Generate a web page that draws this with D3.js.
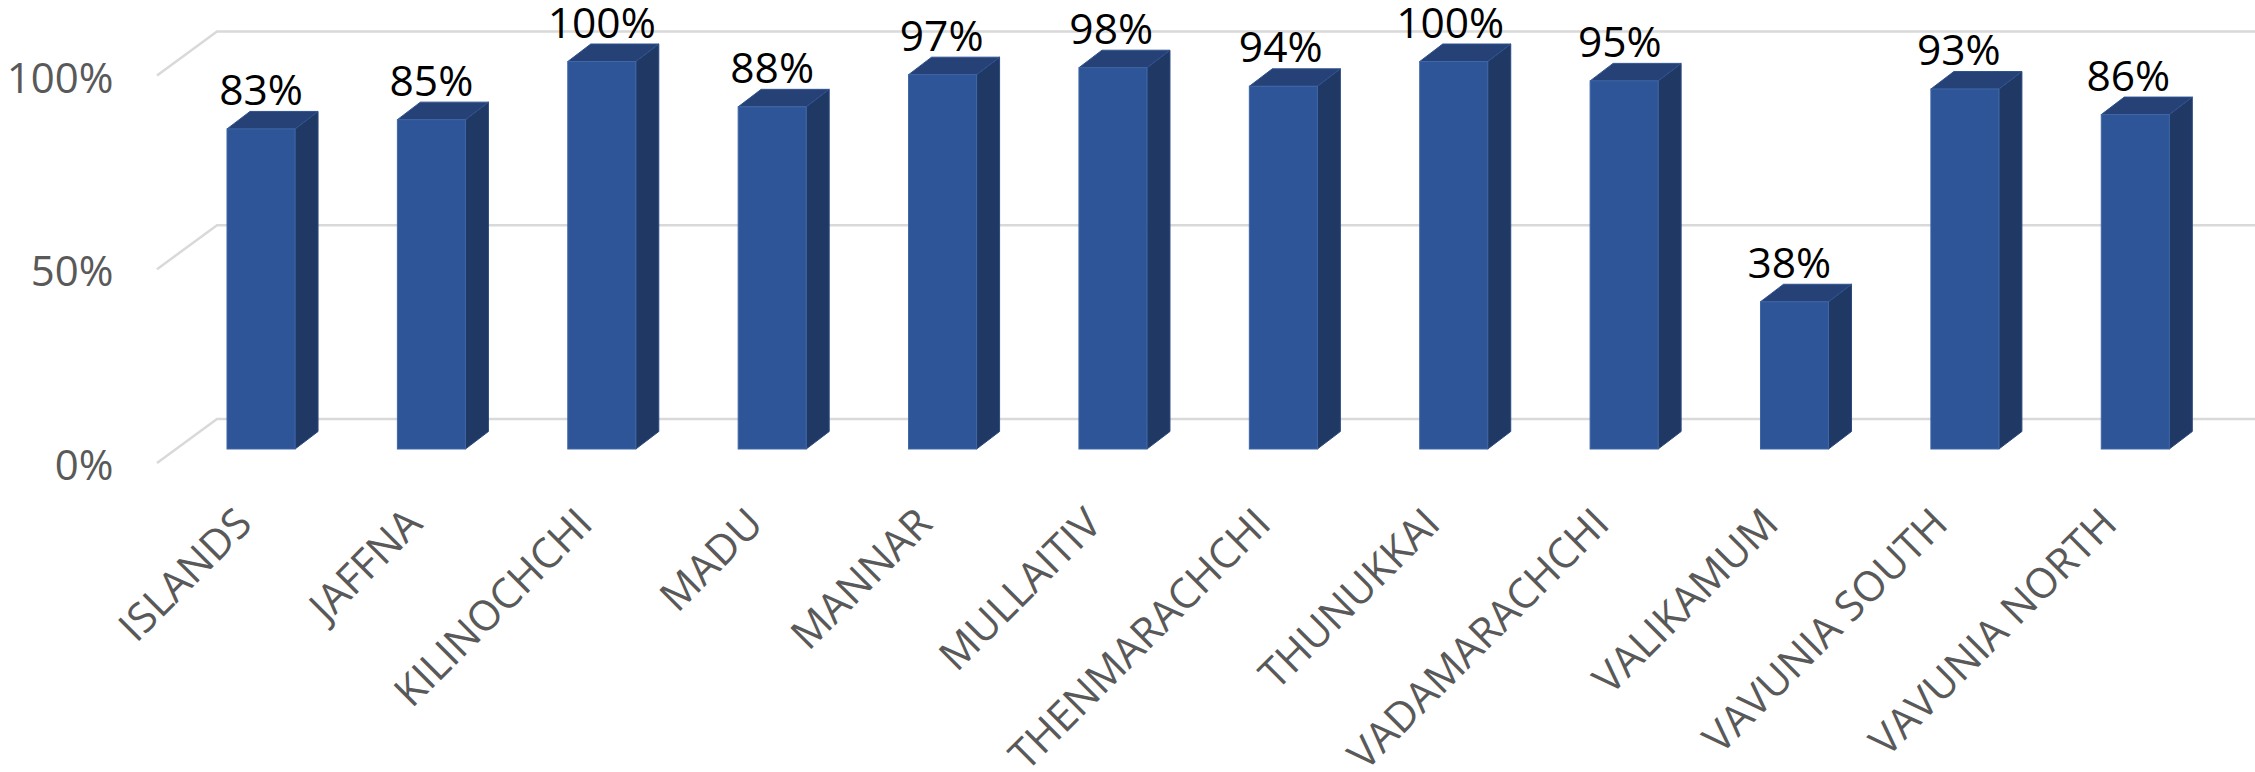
<!DOCTYPE html>
<html><head><meta charset="utf-8">
<style>html,body{margin:0;padding:0;background:#fff;overflow:hidden}svg{display:block}</style>
<script src="https://cdnjs.cloudflare.com/ajax/libs/d3/7.8.5/d3.min.js"></script>
</head><body><script>
const categories=["ISLANDS","JAFFNA","KILINOCHCHI","MADU","MANNAR","MULLAITIV","THENMARACHCHI","THUNUKKAI","VADAMARACHCHI","VALIKAMUM","VAVUNIA SOUTH","VAVUNIA NORTH"];
const values=[82.6,85,100,88.3,96.6,98.4,93.6,100,95,38,92.9,86.3];
const ticks=[0,50,100];
const W=2255,H=772,font="'Open Sans',sans-serif";
const svg=d3.select("body").append("svg").attr("width",W).attr("height",H);
const x=d3.scaleBand().domain(categories).range([227,2169.3]).paddingInner(0.6007).paddingOuter(0);
const y=d3.scaleLinear().domain([0,100]).range([449,61.5]);
const dx=23,dy=17.5;
// the source's perspective pulls text slightly left of its bar towards the right-hand side
const drift=d3.scaleLinear().domain([3,11]).range([0,-7]).clamp(true);
const g=svg.append("g");
ticks.forEach(t=>{
  const by=y(t)-30;
  g.append("path").attr("d",d3.line()([[157,by+44],[217,by],[W,by]])).attr("fill","none").attr("stroke","#d9d9d9").attr("stroke-width",2.5);
  g.append("text").attr("x",113.5).attr("y",by+61).attr("text-anchor","end").attr("font-family",font).attr("font-size",42).attr("fill","#595959").text(t+"%");
});
const bars=svg.append("g").selectAll("g").data(categories).join("g").attr("stroke-width",1);
const bx=d=>x(d),bw=x.bandwidth();
const val=(d,i)=>y(values[i]);
bars.append("path").attr("fill","#203864").attr("stroke","#2b4a80").attr("d",(d,i)=>d3.line()([[bx(d)+bw,val(d,i)],[bx(d)+bw+dx,val(d,i)-dy],[bx(d)+bw+dx,y(0)-dy],[bx(d)+bw,y(0)]])+"Z");
bars.append("path").attr("fill","#254175").attr("stroke","#2f5290").attr("d",(d,i)=>d3.line()([[bx(d),val(d,i)],[bx(d)+dx,val(d,i)-dy],[bx(d)+bw+dx,val(d,i)-dy],[bx(d)+bw,val(d,i)]])+"Z");
bars.append("rect").attr("fill","#2e5597").attr("stroke","#3f66a6").attr("x",bx).attr("y",val).attr("width",bw).attr("height",(d,i)=>y(0)-val(d,i));
svg.append("g").selectAll("text").data(categories).join("text").attr("x",(d,i)=>bx(d)+bw/2+drift(i)).attr("y",(d,i)=>val(d,i)-24).attr("text-anchor","middle").attr("font-family",font).attr("font-size",42.5).attr("fill","#000").text((d,i)=>Math.round(values[i])+"%");
svg.append("g").selectAll("text").data(categories).join("text")
  .attr("transform",(d,i)=>`translate(${bx(d)+bw/2-7+1.3*drift(i)},526) rotate(-45)`)
  .attr("text-anchor","end").attr("font-family",font).attr("font-size",41.5).attr("fill","#595959").text(d=>d);
</script></body></html>
